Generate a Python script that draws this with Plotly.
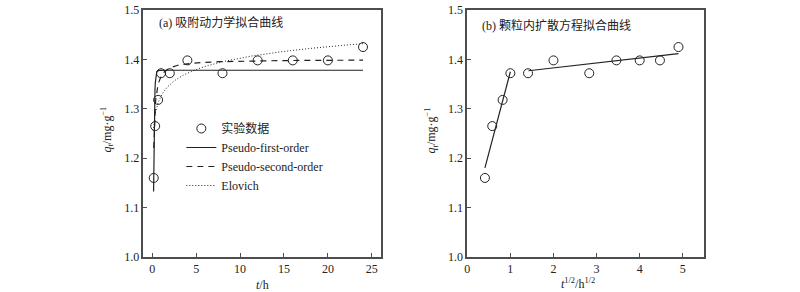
import numpy as np
import plotly.graph_objects as go

# ---- data ----
t_hours = [1/6, 1/3, 2/3, 1, 2, 4, 8, 12, 16, 20, 24]
q_exp = [1.160, 1.265, 1.318, 1.372, 1.372, 1.398, 1.372, 1.398, 1.398, 1.398, 1.425]
sqrt_t = [0.41, 0.58, 0.82, 1.00, 1.41, 2.00, 2.83, 3.46, 4.00, 4.47, 4.90]

# kinetic model parameters
pfo_qe, pfo_k1 = 1.378, 11.5
pso_qe, pso_k2qe = 1.400, 40.0
elo_a, elo_b = 1.326, 0.0333
# intraparticle diffusion segments: (kid, C, x_start, x_end)
ipd_segments = [(0.33, 1.045, 0.41, 1.00), (0.00994, 1.3629, 1.42, 4.90)]

x_ticks_a = [0, 5, 10, 15, 20, 25]
x_ticks_b = [0, 1, 2, 3, 4, 5]
y_ticks = [1.0, 1.1, 1.2, 1.3, 1.4, 1.5]

SERIF = "Liberation Serif, Times New Roman, Noto Sans CJK SC, serif"
AX = "#4d4d4d"
LC = "#222222"

W, H, MT, MB = 800, 292, 10, 35
PH = H - MT - MB


def px(x):
    return x / W


def py(y):
    return 1 - (y - MT) / PH


fig = go.Figure()

# ---- panel a ----
tg = np.linspace(0.15, 24, 600)
fig.add_trace(go.Scatter(x=t_hours, y=q_exp, mode="markers", name="实验数据",
                         marker=dict(symbol="circle-open", size=9, color=LC, line=dict(width=1)),
                         xaxis="x", yaxis="y"))
fig.add_trace(go.Scatter(x=tg, y=pfo_qe * (1 - np.exp(-pfo_k1 * tg)), mode="lines",
                         name="Pseudo-first-order", line=dict(color=LC, width=1.2),
                         xaxis="x", yaxis="y"))
tg2 = np.linspace(0.17, 24, 600)
fig.add_trace(go.Scatter(x=tg2, y=pso_qe * pso_k2qe * tg2 / (1 + pso_k2qe * tg2), mode="lines",
                         name="Pseudo-second-order", line=dict(color=LC, width=1.2, dash="6px,5px"),
                         xaxis="x", yaxis="y"))
tg3 = np.linspace(0.12, 24, 600)
fig.add_trace(go.Scatter(x=tg3, y=elo_a + elo_b * np.log(tg3), mode="lines",
                         name="Elovich", line=dict(color=LC, width=1, dash="1px,2px"),
                         xaxis="x", yaxis="y"))

# ---- panel b ----
fig.add_trace(go.Scatter(x=sqrt_t, y=q_exp, mode="markers", showlegend=False,
                         marker=dict(symbol="circle-open", size=9, color=LC, line=dict(width=1)),
                         xaxis="x2", yaxis="y2"))
for k, c, x0, x1 in ipd_segments:
    xs = np.array([x0, x1])
    fig.add_trace(go.Scatter(x=xs, y=c + k * xs, mode="lines", showlegend=False,
                             line=dict(color=LC, width=1.2), xaxis="x2", yaxis="y2"))

axis_common = dict(showline=True, linecolor=AX, linewidth=1.5, mirror=True,
                   ticks="inside", ticklen=4, tickcolor=AX, tickwidth=1.2,
                   showgrid=False, zeroline=False,
                   tickfont=dict(family=SERIF, size=12, color="#222"))

fig.update_layout(
    width=W, height=H,
    margin=dict(l=0, r=0, t=MT, b=MB),
    paper_bgcolor="white", plot_bgcolor="white",
    font=dict(family=SERIF, size=12, color="#222"),
    xaxis=dict(domain=[141/800, 379/800], range=[-1, 26], tickvals=x_ticks_a, **axis_common),
    yaxis=dict(domain=[0, 1], range=[1.0, 1.5], tickvals=y_ticks, tickformat=".1f",
               anchor="x", **axis_common),
    xaxis2=dict(domain=[466/800, 704/800], range=[0, 5.5], tickvals=x_ticks_b,
                anchor="y2", **axis_common),
    yaxis2=dict(domain=[0, 1], range=[1.0, 1.5], tickvals=y_ticks, tickformat=".1f",
                anchor="x2", **axis_common),
    legend=dict(x=px(179), y=py(114), xanchor="left", yanchor="top",
                bgcolor="rgba(0,0,0,0)", font=dict(family=SERIF, size=12, color="#222"),
                tracegroupgap=0, itemwidth=30),
    showlegend=True,
)

ann = [
    dict(text="(a) 吸附动力学拟合曲线", x=px(155), y=py(23), xanchor="left", yanchor="middle"),
    dict(text="(b) 颗粒内扩散方程拟合曲线", x=px(479), y=py(25), xanchor="left", yanchor="middle"),
    dict(text="<i>t</i>/h", x=px(260), y=py(285), xanchor="center", yanchor="middle"),
    dict(text="<i>t</i><sup>1/2</sup>/h<sup>1/2</sup>", x=px(577), y=py(283),
         xanchor="center", yanchor="middle"),
    dict(text="<i>q</i><sub><i>t</i></sub>/mg·g<sup>−1</sup>", x=px(104), y=py(130),
         xanchor="center", yanchor="middle", textangle=-90),
    dict(text="<i>q</i><sub><i>t</i></sub>/mg·g<sup>−1</sup>", x=px(430), y=py(130),
         xanchor="center", yanchor="middle", textangle=-90),
]
fig.update_layout(annotations=[dict(xref="paper", yref="paper", showarrow=False,
                                    font=dict(family=SERIF, size=12, color="#222"), **a)
                               for a in ann])

fig.write_html("out.html")
